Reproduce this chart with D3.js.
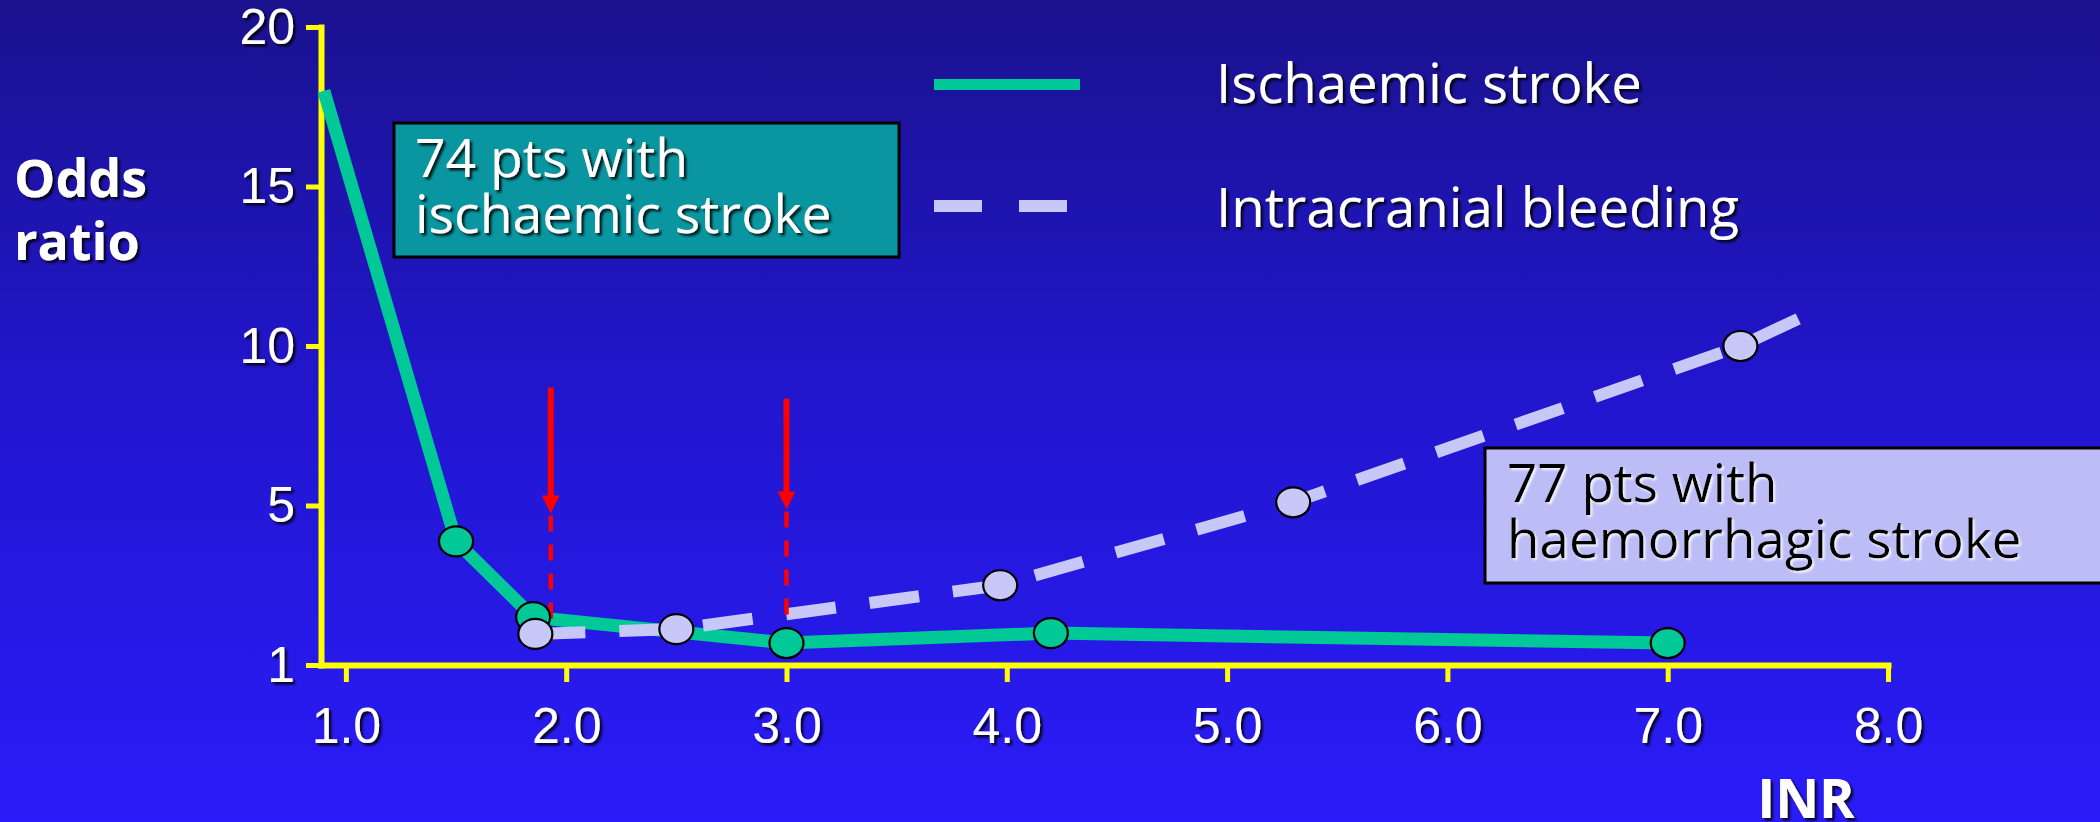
<!DOCTYPE html>
<html><head><meta charset="utf-8">
<script src="https://cdn.jsdelivr.net/npm/d3@7"></script>
<style>html,body{margin:0;padding:0;overflow:hidden;background:#2216D0}</style>
</head><body>
<script>
// ---- data ----
const xTickValues = [1, 2, 3, 4, 5, 6, 7, 8];
const xTickLabels = ["1.0", "2.0", "3.0", "4.0", "5.0", "6.0", "7.0", "8.0"];
const yTickValues = [1, 5, 10, 15, 20];
const xAxisStart = 0.887; // INR where the y axis sits

const ischaemicINR = [0.9, 1.5, 1.85, 3.0, 4.2, 7.0];
const ischaemicOR = [18, 4.1, 2.2, 1.55, 1.8, 1.55];
const ischaemicMarked = [false, true, true, true, true, true];

const bleedingINR = [1.86, 2.5, 3.97, 5.3, 7.33, 7.67];
const bleedingOR = [1.78, 1.9, 3.0, 5.1, 10.0, 11.1];
const bleedingMarked = [true, true, true, true, true, false];

const targetINR = [1.93, 3.0];
const arrowTopOR = [8.7, 8.35];
const arrowTipOR = [4.8, 4.9];
const arrowEndOR = [1.6, 1.9];

const seriesNames = ["Ischaemic stroke", "Intracranial bleeding"];
const box1Lines = ["74 pts with", "ischaemic stroke"];
const box2Lines = ["77 pts with", "haemorrhagic stroke"];
const yTitle = ["Odds", "ratio"];
const xTitle = "INR";

// ---- layout ----
const W = 2100, H = 822;
const GREEN = "#00C896", LAV = "#C8C8F8", YEL = "#FFFF00", RED = "#FF0000";
const FONT_HAND = "'Open Sans', 'Noto Sans', sans-serif";
const FONT_NUM = "'Liberation Sans', Arial, sans-serif";

const svg = d3.select("body").append("svg").attr("width", W).attr("height", H);
const defs = svg.append("defs");
const grad = defs.append("linearGradient").attr("id", "bg").attr("x1", 0).attr("y1", 0).attr("x2", 0).attr("y2", 1);
grad.append("stop").attr("offset", "0%").attr("stop-color", "rgb(26,18,142)");
grad.append("stop").attr("offset", "50%").attr("stop-color", "rgb(34,22,208)");
grad.append("stop").attr("offset", "100%").attr("stop-color", "rgb(42,28,248)");
const sh = defs.append("filter").attr("id", "shadow").attr("x", "-10%").attr("y", "-20%").attr("width", "130%").attr("height", "150%");
sh.append("feDropShadow").attr("dx", 2.5).attr("dy", 2.5).attr("stdDeviation", 0.8).attr("flood-color", "#000").attr("flood-opacity", 0.85);
const shL = defs.append("filter").attr("id", "shadowL").attr("x", "-10%").attr("y", "-20%").attr("width", "130%").attr("height", "150%");
shL.append("feDropShadow").attr("dx", 2).attr("dy", 2).attr("stdDeviation", 1).attr("flood-color", "#fff").attr("flood-opacity", 0.8);

svg.append("rect").attr("width", W).attr("height", H).attr("fill", "url(#bg)");

const x = d3.scaleLinear().domain([xAxisStart, 8]).range([321, 1888]);
const yBottom = 665, yTop = 27;
const y = d3.scaleLinear().domain(yTickValues)
  .range(yTickValues.map((d, i) => yBottom - i * (yBottom - yTop) / (yTickValues.length - 1)));

// axes
const gx = svg.append("g").attr("transform", `translate(0,${yBottom})`)
  .call(d3.axisBottom(x).tickValues(xTickValues).tickFormat((d, i) => xTickLabels[i])
    .tickSizeInner(17).tickSizeOuter(0).tickPadding(25));
gx.select(".domain").attr("stroke", YEL).attr("stroke-width", 6).attr("stroke-linecap", "square");
gx.selectAll(".tick line").attr("stroke", YEL).attr("stroke-width", 5);
gx.selectAll(".tick text").attr("fill", "#fff").attr("font-family", FONT_NUM).attr("font-size", 50)
  .attr("filter", "url(#shadow)");

const gy = svg.append("g").attr("transform", `translate(321,0)`)
  .call(d3.axisLeft(y).tickValues(yTickValues).tickFormat(d3.format("d"))
    .tickSizeInner(15).tickSizeOuter(0).tickPadding(11));
gy.select(".domain").attr("stroke", YEL).attr("stroke-width", 6).attr("stroke-linecap", "square");
gy.selectAll(".tick line").attr("stroke", YEL).attr("stroke-width", 5);
gy.selectAll(".tick text").attr("fill", "#fff").attr("font-family", FONT_NUM).attr("font-size", 50)
  .attr("filter", "url(#shadow)");

// axis titles
svg.append("g").selectAll("text").data(yTitle).join("text")
  .attr("x", 14).attr("y", (d, i) => 197 + i * 63)
  .attr("fill", "#fff").attr("font-family", FONT_HAND).attr("font-weight", 700).attr("font-size", 52)
  .attr("filter", "url(#shadow)").text(d => d);
svg.append("text").attr("x", 1806).attr("y", 818).attr("text-anchor", "middle")
  .attr("fill", "#fff").attr("font-family", FONT_HAND).attr("font-weight", 700).attr("font-size", 54)
  .attr("filter", "url(#shadow)").text(xTitle);

// series
const ischaemic = ischaemicINR.map((v, i) => ({ x: v, y: ischaemicOR[i], m: ischaemicMarked[i] }));
const bleeding = bleedingINR.map((v, i) => ({ x: v, y: bleedingOR[i], m: bleedingMarked[i] }));
const line = d3.line().x(d => x(d.x)).y(d => y(d.y));

svg.append("path").datum(ischaemic).attr("d", line).attr("fill", "none")
  .attr("stroke", GREEN).attr("stroke-width", 13);
svg.append("path").datum(bleeding).attr("d", line).attr("fill", "none")
  .attr("stroke", LAV).attr("stroke-width", 12).attr("stroke-dasharray", "50,34");

// red arrows
const arrows = targetINR.map((v, i) => ({ x: v, top: arrowTopOR[i], tip: arrowTipOR[i], end: arrowEndOR[i] }));
const ga = svg.append("g").selectAll("g").data(arrows).join("g");
ga.append("line").attr("x1", d => x(d.x)).attr("x2", d => x(d.x))
  .attr("y1", d => y(d.top)).attr("y2", d => y(d.tip) - 16)
  .attr("stroke", RED).attr("stroke-width", 6);
ga.append("path").attr("d", d => `M${x(d.x) - 9},${y(d.tip) - 18}L${x(d.x) + 9},${y(d.tip) - 18}L${x(d.x)},${y(d.tip)}Z`)
  .attr("fill", RED);
ga.append("line").attr("x1", d => x(d.x)).attr("x2", d => x(d.x))
  .attr("y1", d => y(d.tip) + 2).attr("y2", d => y(d.end))
  .attr("stroke", RED).attr("stroke-width", 4.5).attr("stroke-dasharray", "16,13");

// markers
svg.append("g").selectAll("ellipse").data(ischaemic.filter(d => d.m)).join("ellipse")
  .attr("cx", d => x(d.x)).attr("cy", d => y(d.y)).attr("rx", 17).attr("ry", 15)
  .attr("fill", GREEN).attr("stroke", "#000").attr("stroke-width", 2.2);
svg.append("g").selectAll("ellipse").data(bleeding.filter(d => d.m)).join("ellipse")
  .attr("cx", d => x(d.x)).attr("cy", d => y(d.y)).attr("rx", 17).attr("ry", 15)
  .attr("fill", LAV).attr("stroke", "#000").attr("stroke-width", 2.2);

// legend
svg.append("line").attr("x1", 934).attr("x2", 1080).attr("y1", 84.5).attr("y2", 84.5)
  .attr("stroke", GREEN).attr("stroke-width", 11);
svg.append("line").attr("x1", 934).attr("x2", 1068).attr("y1", 206).attr("y2", 206)
  .attr("stroke", LAV).attr("stroke-width", 12).attr("stroke-dasharray", "48,37");
svg.append("g").selectAll("text").data(seriesNames).join("text")
  .attr("x", 1216).attr("y", (d, i) => [103, 227][i])
  .attr("fill", "#fff").attr("font-family", FONT_HAND).attr("font-size", 54.5)
  .attr("filter", "url(#shadow)").text(d => d);

// annotation boxes
svg.append("rect").attr("x", 394).attr("y", 123).attr("width", 505).attr("height", 134)
  .attr("fill", "#0A96A0").attr("stroke", "#000").attr("stroke-width", 3);
svg.append("g").selectAll("text").data(box1Lines).join("text")
  .attr("x", 415).attr("y", (d, i) => 177 + i * 56)
  .attr("fill", "#fff").attr("font-family", FONT_HAND).attr("font-size", 53.5)
  .attr("filter", "url(#shadow)").text(d => d);

svg.append("rect").attr("x", 1485).attr("y", 448).attr("width", 640).attr("height", 135)
  .attr("fill", "#BCBCF6").attr("stroke", "#000").attr("stroke-width", 3);
svg.append("g").selectAll("text").data(box2Lines).join("text")
  .attr("x", 1507).attr("y", (d, i) => 502 + i * 56)
  .attr("fill", "#000").attr("font-family", FONT_HAND).attr("font-size", 53)
  .attr("filter", "url(#shadowL)").text(d => d);
</script>
</body></html>
